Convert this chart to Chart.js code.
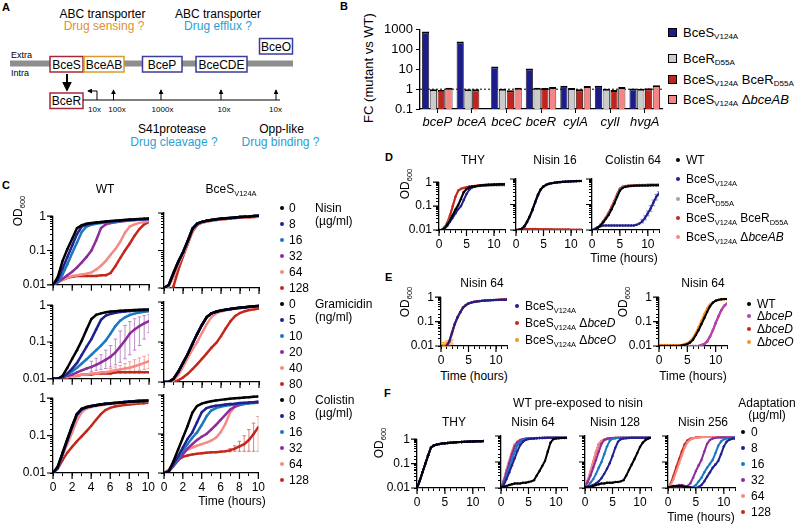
<!DOCTYPE html>
<html>
<head>
<meta charset="utf-8">
<script src="https://cdn.jsdelivr.net/npm/chart.js@4.4.0/dist/chart.umd.min.js"></script>
<style>
body{margin:0;width:796px;height:526px;position:relative;overflow:hidden;background:#fff;font-family:'Liberation Sans',Arial,sans-serif;font-size:12px;color:#000}
canvas{position:absolute}
.t{position:absolute;white-space:nowrap;line-height:1}
.t sub{font-size:0.62em;vertical-align:-0.35em;line-height:0}
.dot{position:absolute;width:4px;height:4px;border-radius:50%;margin:-2px 0 0 -2px}
.sq{position:absolute;width:7px;height:7px;border:1px solid #000;margin:-4px 0 0 -4px}
</style>
</head>
<body>
<svg style="position:absolute;left:0;top:0" width="330" height="160" font-family="Liberation Sans, Arial, sans-serif">
  <defs>
    <marker id="ah" viewBox="0 0 6 6" refX="5" refY="3" markerWidth="5" markerHeight="5" orient="auto"><path d="M0,0L6,3L0,6z" fill="#000"/></marker>
  </defs>
  <rect x="10" y="60.5" width="283" height="6" fill="#8e8e8e"/>
  <text x="11" y="55" font-size="9" dominant-baseline="central">Extra</text>
  <text x="11" y="73" font-size="9" dominant-baseline="central">Intra</text>
  <g fill="#fff" stroke-width="1.5">
    <rect x="50" y="56.5" width="33" height="15.5" stroke="#a8283a"/>
    <rect x="84" y="56.5" width="40" height="15.5" stroke="#d99a2b"/>
    <rect x="142.5" y="56.5" width="39.5" height="15.5" stroke="#3c3c9c"/>
    <rect x="196" y="56.5" width="51" height="15.5" stroke="#3c3c9c"/>
    <rect x="259.5" y="38.5" width="33" height="15.5" stroke="#3c3c9c"/>
    <rect x="50" y="93" width="33" height="15.5" stroke="#a8283a"/>
  </g>
  <g font-size="12" text-anchor="middle" dominant-baseline="central">
    <text x="66.5" y="64.5">BceS</text>
    <text x="104" y="64.5">BceAB</text>
    <text x="162" y="64.5">BceP</text>
    <text x="221.5" y="64.5">BceCDE</text>
    <text x="276" y="46.5">BceO</text>
    <text x="66.5" y="101">BceR</text>
    <text x="102.5" y="14">ABC transporter</text>
    <text x="104" y="26" fill="#e0922c">Drug sensing ?</text>
    <text x="218" y="14">ABC transporter</text>
    <text x="218" y="26" fill="#2a9fd3">Drug efflux ?</text>
    <text x="172" y="129">S41protease</text>
    <text x="174" y="142" fill="#2a9fd3">Drug cleavage ?</text>
    <text x="281.5" y="129">Opp-like</text>
    <text x="280.5" y="142" fill="#2a9fd3">Drug binding ?</text>
  </g>
  <g font-size="8" text-anchor="middle" dominant-baseline="central">
    <text x="94.5" y="109">10x</text>
    <text x="117" y="109">100x</text>
    <text x="162.5" y="109">1000x</text>
    <text x="224" y="109">10x</text>
    <text x="275.5" y="109">10x</text>
  </g>
  <g stroke="#000" fill="none">
    <line x1="67" y1="74" x2="67" y2="90" stroke-width="2" marker-end="url(#ah)"/>
    <line x1="83" y1="100" x2="280" y2="100" stroke-width="1"/>
    <path d="M97,100V91H88" stroke-width="1" marker-end="url(#ah)"/>
    <line x1="113.5" y1="100" x2="113.5" y2="90" stroke-width="1" marker-end="url(#ah)"/>
    <line x1="161" y1="100" x2="161" y2="90" stroke-width="1" marker-end="url(#ah)"/>
    <line x1="221" y1="100" x2="221" y2="90" stroke-width="1" marker-end="url(#ah)"/>
    <line x1="276" y1="100" x2="276" y2="90" stroke-width="1" marker-end="url(#ah)"/>
  </g>
</svg>
<script>
'use strict'
// ---------- panel B ----------
const bGenes = ['bceP', 'bceA', 'bceC', 'bceR', 'cylA', 'cylI', 'hvgA'];
const bBceS = [820, 260, 14, 11, 1.5, 1.5, 1.1];
const bBceR = [0.98, 1.0, 1.05, 1.2, 1.15, 1.05, 1.05];
const bBoth = [0.95, 1.0, 0.88, 1.15, 1.0, 0.92, 1.12];
const bDelAB = [1.2, null, 1.2, 1.3, 1.45, 1.3, 1.6];
const bTicks = [0.1, 1, 10, 100, 1000];

// ---------- time axes ----------
const tC = [0, 0.5, 1, 1.5, 2, 2.5, 3, 3.5, 4, 4.5, 5, 5.5, 6, 6.5, 7, 7.5, 8, 8.5, 9, 9.5, 10];
const tL = [0, 0.5, 1, 1.5, 2, 2.5, 3, 3.5, 4, 4.5, 5, 5.5, 6, 6.5, 7, 7.5, 8, 8.5, 9, 9.5, 10, 10.5, 11, 11.5, 12];

// ---------- panel C : WT / BceS, nisin ----------
const cNisWt0 = [0.01, 0.017, 0.05, 0.11, 0.22, 0.45, 0.55, 0.6, 0.63, 0.66, 0.68, 0.7, 0.72, 0.74, 0.76, 0.78, 0.8, 0.81, 0.83, 0.84, 0.85];
const cNisWt8 = [0.01, 0.014, 0.03, 0.065, 0.14, 0.3, 0.5, 0.57, 0.61, 0.64, 0.67, 0.69, 0.71, 0.73, 0.75, 0.77, 0.79, 0.8, 0.82, 0.83, 0.84];
const cNisWt16 = [0.01, 0.012, 0.02, 0.04, 0.085, 0.17, 0.35, 0.5, 0.56, 0.6, 0.63, 0.66, 0.68, 0.7, 0.72, 0.74, 0.76, 0.78, 0.8, 0.81, 0.82];
const cNisWt32 = [0.01, 0.012, 0.015, 0.019, 0.024, 0.032, 0.045, 0.065, 0.1, 0.2, 0.45, 0.58, 0.63, 0.67, 0.7, 0.73, 0.75, 0.77, 0.79, 0.8, 0.82];
const cNisWt64 = [0.01, 0.012, 0.014, 0.016, 0.018, 0.019, 0.02, 0.021, 0.023, 0.028, 0.036, 0.05, 0.075, 0.11, 0.18, 0.33, 0.5, 0.58, 0.64, 0.68, 0.72];
const cNisWt128 = [0.01, 0.012, 0.014, 0.016, 0.017, 0.018, 0.018, 0.018, 0.018, 0.018, 0.019, 0.019, 0.022, 0.035, 0.06, 0.1, 0.16, 0.27, 0.42, 0.58, 0.68];
const cNisBsLow = [0.01, 0.012, 0.025, 0.05, 0.09, 0.18, 0.38, 0.52, 0.58, 0.62, 0.65, 0.68, 0.7, 0.72, 0.74, 0.76, 0.78, 0.8, 0.81, 0.83, 0.84];
const cNisBs64 = [0.009, 0.011, 0.02, 0.042, 0.08, 0.16, 0.34, 0.5, 0.56, 0.6, 0.63, 0.66, 0.68, 0.7, 0.72, 0.74, 0.76, 0.77, 0.78, 0.79, 0.8];
const cNisBs128 = [0.007, 0.008, 0.011, 0.03, 0.07, 0.15, 0.32, 0.48, 0.55, 0.59, 0.62, 0.65, 0.67, 0.69, 0.71, 0.73, 0.75, 0.76, 0.77, 0.78, 0.79];

// ---------- panel C : gramicidin ----------
const cGraWt0 = [0.01, 0.01, 0.012, 0.02, 0.035, 0.06, 0.11, 0.22, 0.42, 0.55, 0.6, 0.64, 0.67, 0.69, 0.71, 0.72, 0.73, 0.74, 0.75, 0.76, 0.77];
const cGraWt5 = [0.01, 0.01, 0.011, 0.014, 0.019, 0.027, 0.045, 0.075, 0.12, 0.22, 0.4, 0.52, 0.58, 0.62, 0.65, 0.67, 0.69, 0.71, 0.72, 0.73, 0.74];
const cGraWt10 = [0.01, 0.01, 0.011, 0.013, 0.016, 0.02, 0.026, 0.034, 0.045, 0.06, 0.08, 0.11, 0.17, 0.27, 0.38, 0.47, 0.54, 0.59, 0.63, 0.66, 0.69];
const cGraWt20 = [0.01, 0.01, 0.011, 0.012, 0.013, 0.015, 0.017, 0.019, 0.021, 0.024, 0.028, 0.033, 0.04, 0.052, 0.075, 0.11, 0.17, 0.22, 0.27, 0.32, 0.37];
const cGraWt20Hi = [null, null, null, null, null, null, null, null, 0.03, 0.036, 0.045, 0.06, 0.08, 0.12, 0.2, 0.28, 0.36, 0.43, 0.48, 0.52, 0.55];
const cGraWt20Lo = [null, null, null, null, null, null, null, null, 0.016, 0.017, 0.018, 0.019, 0.021, 0.024, 0.028, 0.035, 0.045, 0.06, 0.08, 0.12, 0.18];
const cGraWt40 = [0.01, 0.01, 0.011, 0.011, 0.012, 0.012, 0.013, 0.013, 0.014, 0.014, 0.015, 0.015, 0.016, 0.017, 0.018, 0.019, 0.02, 0.022, 0.024, 0.027, 0.03];
const cGraWt40Hi = [null, null, null, null, null, null, null, null, null, null, null, null, 0.019, 0.021, 0.023, 0.026, 0.029, 0.033, 0.037, 0.041, 0.045];
const cGraWt40Lo = [null, null, null, null, null, null, null, null, null, null, null, null, 0.014, 0.014, 0.015, 0.015, 0.016, 0.016, 0.017, 0.018, 0.019];
const cGraWt80 = [0.01, 0.01, 0.011, 0.011, 0.012, 0.012, 0.013, 0.013, 0.013, 0.014, 0.014, 0.014, 0.014, 0.015, 0.015, 0.015, 0.015, 0.015, 0.015, 0.015, 0.015];
const cGraBsLow = [0.01, 0.01, 0.012, 0.018, 0.03, 0.05, 0.09, 0.16, 0.27, 0.42, 0.52, 0.57, 0.61, 0.64, 0.67, 0.7, 0.72, 0.74, 0.76, 0.78, 0.8];
const cGraBs40 = [0.01, 0.01, 0.011, 0.015, 0.024, 0.04, 0.065, 0.1, 0.17, 0.28, 0.42, 0.52, 0.58, 0.62, 0.65, 0.68, 0.7, 0.72, 0.74, 0.75, 0.76];
const cGraBs80 = [0.01, 0.01, 0.01, 0.011, 0.013, 0.016, 0.021, 0.028, 0.038, 0.052, 0.072, 0.095, 0.14, 0.22, 0.33, 0.45, 0.53, 0.59, 0.63, 0.66, 0.69];

// ---------- panel C : colistin ----------
const cColWt0 = [0.01, 0.015, 0.035, 0.08, 0.18, 0.38, 0.52, 0.58, 0.62, 0.65, 0.68, 0.7, 0.72, 0.74, 0.76, 0.78, 0.8, 0.81, 0.82, 0.83, 0.84];
const cColWtLow = [0.01, 0.014, 0.032, 0.075, 0.17, 0.36, 0.5, 0.57, 0.61, 0.65, 0.68, 0.71, 0.73, 0.75, 0.77, 0.79, 0.81, 0.83, 0.85, 0.87, 0.88];
const cColWt64 = [0.01, 0.014, 0.03, 0.06, 0.12, 0.25, 0.42, 0.52, 0.58, 0.62, 0.65, 0.68, 0.7, 0.72, 0.74, 0.75, 0.77, 0.78, 0.79, 0.8, 0.81];
const cColWt128 = [0.01, 0.013, 0.022, 0.035, 0.05, 0.07, 0.095, 0.13, 0.18, 0.26, 0.37, 0.48, 0.55, 0.6, 0.63, 0.66, 0.68, 0.7, 0.72, 0.73, 0.75];
const cColBs0 = [0.01, 0.011, 0.02, 0.04, 0.08, 0.16, 0.35, 0.52, 0.6, 0.65, 0.69, 0.72, 0.75, 0.78, 0.8, 0.82, 0.84, 0.86, 0.88, 0.9, 0.92];
const cColBs8 = [0.01, 0.011, 0.017, 0.027, 0.045, 0.075, 0.11, 0.2, 0.36, 0.46, 0.5, 0.53, 0.55, 0.57, 0.59, 0.6, 0.62, 0.63, 0.64, 0.65, 0.66];
const cColBs16 = [0.01, 0.011, 0.016, 0.024, 0.037, 0.055, 0.08, 0.11, 0.17, 0.28, 0.4, 0.46, 0.5, 0.53, 0.55, 0.57, 0.58, 0.6, 0.61, 0.62, 0.63];
const cColBs32 = [0.01, 0.011, 0.015, 0.021, 0.03, 0.042, 0.055, 0.07, 0.085, 0.1, 0.13, 0.17, 0.23, 0.31, 0.42, 0.5, 0.55, 0.59, 0.62, 0.65, 0.68];
const cColBs64 = [0.01, 0.012, 0.018, 0.026, 0.034, 0.04, 0.045, 0.05, 0.055, 0.06, 0.068, 0.08, 0.11, 0.18, 0.35, 0.5, 0.57, 0.6, 0.62, 0.63, 0.64];
const cColBs128 = [0.01, 0.012, 0.017, 0.022, 0.026, 0.028, 0.03, 0.031, 0.032, 0.033, 0.034, 0.034, 0.035, 0.036, 0.038, 0.042, 0.048, 0.055, 0.07, 0.1, 0.15];
const cColBs128Hi = [null, null, null, null, null, null, null, null, null, null, null, null, null, null, 0.042, 0.05, 0.065, 0.09, 0.13, 0.19, 0.28];
const cColBs128Lo = [null, null, null, null, null, null, null, null, null, null, null, null, null, null, 0.035, 0.036, 0.036, 0.036, 0.036, 0.036, 0.036];

// ---------- panel D ----------
const dThyWt = [0.01, 0.01, 0.012, 0.017, 0.026, 0.042, 0.07, 0.11, 0.2, 0.38, 0.52, 0.6, 0.65, 0.68, 0.7, 0.72, 0.74, 0.75, 0.76, 0.77, 0.78, 0.79, 0.8, 0.8, 0.81];
const dThyBs = [0.01, 0.01, 0.011, 0.015, 0.022, 0.033, 0.05, 0.075, 0.1, 0.18, 0.32, 0.48, 0.6, 0.66, 0.7, 0.73, 0.76, 0.78, 0.8, 0.81, 0.82, 0.83, 0.84, 0.85, 0.85];
const dThyBr = [0.01, 0.01, 0.012, 0.018, 0.028, 0.045, 0.075, 0.12, 0.22, 0.4, 0.52, 0.58, 0.62, 0.65, 0.67, 0.69, 0.7, 0.71, 0.72, 0.73, 0.74, 0.74, 0.75, 0.75, 0.75];
const dThyBoth = [0.01, 0.01, 0.013, 0.02, 0.04, 0.1, 0.25, 0.45, 0.53, 0.58, 0.62, 0.66, 0.68, 0.7, 0.72, 0.73, 0.74, 0.75, 0.76, 0.77, 0.78, 0.78, 0.79, 0.79, 0.8];
const dThyDel = [0.01, 0.01, 0.013, 0.021, 0.042, 0.1, 0.24, 0.43, 0.52, 0.57, 0.61, 0.65, 0.67, 0.69, 0.71, 0.72, 0.73, 0.74, 0.75, 0.76, 0.77, 0.77, 0.78, 0.78, 0.79];
const dNisWt = [0.01, 0.01, 0.011, 0.014, 0.021, 0.035, 0.065, 0.13, 0.25, 0.4, 0.52, 0.6, 0.65, 0.69, 0.72, 0.74, 0.76, 0.78, 0.79, 0.8, 0.81, 0.82, 0.83, 0.84, 0.84];
const dNisBs = [0.01, 0.01, 0.011, 0.013, 0.02, 0.033, 0.06, 0.12, 0.23, 0.38, 0.5, 0.58, 0.64, 0.68, 0.71, 0.73, 0.75, 0.77, 0.78, 0.79, 0.8, 0.81, 0.82, 0.83, 0.83];
const dNisBr = [0.01, 0.0099, 0.0098, 0.0098, 0.0098, 0.0098, 0.0098, 0.0098, 0.0098, 0.0098, 0.0098, 0.0098, 0.0098, 0.0098, 0.0098, 0.0098, 0.0098, 0.0098, 0.0098, 0.0098, 0.0098, 0.0098, 0.0098, 0.0098, 0.0098];
const dNisBoth = [0.01, 0.0105, 0.011, 0.011, 0.011, 0.011, 0.011, 0.0109, 0.0108, 0.0108, 0.0107, 0.0107, 0.0106, 0.0106, 0.0105, 0.0105, 0.0105, 0.0104, 0.0104, 0.0104, 0.0103, 0.0103, 0.0103, 0.0102, 0.0102];
const dNisDel = [0.01, 0.0104, 0.0108, 0.0108, 0.0108, 0.0107, 0.0106, 0.0105, 0.0104, 0.0103, 0.0102, 0.0102, 0.0101, 0.0101, 0.01, 0.01, 0.01, 0.0099, 0.0099, 0.0099, 0.0098, 0.0098, 0.0098, 0.0097, 0.0097];
const dColWt = [0.01, 0.01, 0.012, 0.015, 0.02, 0.028, 0.04, 0.065, 0.11, 0.2, 0.35, 0.45, 0.5, 0.52, 0.53, 0.54, 0.55, 0.55, 0.56, 0.56, 0.56, 0.57, 0.57, 0.57, 0.57];
const dColBs = [0.01, 0.011, 0.013, 0.014, 0.015, 0.015, 0.015, 0.015, 0.015, 0.015, 0.015, 0.015, 0.015, 0.015, 0.015, 0.015, 0.016, 0.018, 0.022, 0.03, 0.045, 0.07, 0.12, 0.2, 0.27];
const dColBsHi = [null, null, null, null, null, null, null, null, null, null, null, null, null, null, null, null, null, null, 0.026, 0.036, 0.055, 0.09, 0.15, 0.25, 0.32];
const dColBsLo = [null, null, null, null, null, null, null, null, null, null, null, null, null, null, null, null, null, null, 0.019, 0.025, 0.036, 0.054, 0.09, 0.15, 0.22];
const dColBr = [0.01, 0.01, 0.012, 0.016, 0.021, 0.03, 0.043, 0.07, 0.12, 0.22, 0.37, 0.47, 0.51, 0.53, 0.54, 0.55, 0.55, 0.56, 0.56, 0.57, 0.57, 0.57, 0.58, 0.58, 0.58];
const dColBoth = [0.01, 0.01, 0.012, 0.016, 0.022, 0.032, 0.048, 0.08, 0.14, 0.26, 0.42, 0.5, 0.53, 0.55, 0.56, 0.57, 0.57, 0.58, 0.58, 0.58, 0.59, 0.59, 0.59, 0.59, 0.6];
const dColDel = [0.01, 0.01, 0.012, 0.015, 0.021, 0.031, 0.046, 0.077, 0.13, 0.24, 0.4, 0.49, 0.52, 0.54, 0.55, 0.56, 0.57, 0.57, 0.58, 0.58, 0.58, 0.59, 0.59, 0.59, 0.59];

// ---------- panel E ----------
const eBs = [0.01, 0.009, 0.01, 0.015, 0.035, 0.08, 0.15, 0.24, 0.37, 0.47, 0.55, 0.6, 0.64, 0.67, 0.69, 0.71, 0.73, 0.74, 0.75, 0.76, 0.77, 0.78, 0.79, 0.79, 0.8];
const eBsD = [0.01, 0.009, 0.01, 0.016, 0.036, 0.08, 0.15, 0.25, 0.38, 0.48, 0.56, 0.61, 0.65, 0.68, 0.7, 0.72, 0.74, 0.75, 0.76, 0.77, 0.78, 0.79, 0.8, 0.8, 0.81];
const eBsO = [0.011, 0.011, 0.012, 0.014, 0.03, 0.075, 0.14, 0.23, 0.36, 0.47, 0.55, 0.6, 0.64, 0.67, 0.69, 0.71, 0.72, 0.73, 0.74, 0.75, 0.76, 0.77, 0.78, 0.79, 0.79];
const eBsOHi = [0.013, 0.014, 0.016, 0.017, 0.018, null, null, null, null, null, null, null, null, null, null, null, null, null, null, null, null, null, null, null, null];
const eBsOLo = [0.009, 0.009, 0.009, 0.011, 0.012, null, null, null, null, null, null, null, null, null, null, null, null, null, null, null, null, null, null, null, null];
const eWt = [0.01, 0.01, 0.01, 0.01, 0.01, 0.01, 0.01, 0.01, 0.0105, 0.011, 0.012, 0.014, 0.018, 0.028, 0.045, 0.08, 0.14, 0.25, 0.42, 0.6, 0.72, 0.78, 0.82, 0.84, 0.85];
const eDelP = [0.01, 0.01, 0.01, 0.01, 0.01, 0.01, 0.01, 0.01, 0.01, 0.01, 0.01, 0.01, 0.01, 0.01, 0.01, 0.011, 0.012, 0.016, 0.025, 0.045, 0.09, 0.17, 0.3, 0.45, 0.55];
const eDelD = [0.01, 0.01, 0.01, 0.01, 0.01, 0.01, 0.01, 0.01, 0.01, 0.01, 0.01, 0.01, 0.01, 0.01, 0.01, 0.011, 0.012, 0.015, 0.024, 0.043, 0.085, 0.16, 0.29, 0.44, 0.54];
const eDelO = [0.011, 0.011, 0.011, 0.011, 0.011, 0.011, 0.011, 0.011, 0.011, 0.012, 0.013, 0.016, 0.022, 0.035, 0.06, 0.11, 0.2, 0.35, 0.5, 0.6, 0.7, 0.76, 0.8, 0.82, 0.83];

// ---------- panel F ----------
const fThy = [0.01, 0.02, 0.045, 0.1, 0.22, 0.45, 0.55, 0.6, 0.63, 0.66, 0.68, 0.7, 0.72, 0.73, 0.75, 0.76, 0.77, 0.78, 0.79, 0.8, 0.81, 0.82, 0.83, 0.83, 0.84];
const fN64a0 = [0.011, 0.011, 0.012, 0.013, 0.014, 0.015, 0.015, 0.015, 0.016, 0.016, 0.017, 0.018, 0.02, 0.03, 0.045, 0.07, 0.11, 0.25, 0.55, 0.75, 0.8, 0.82, 0.83, 0.84, 0.84];
const fN64a8 = [0.011, 0.013, 0.022, 0.04, 0.075, 0.14, 0.27, 0.45, 0.6, 0.7, 0.76, 0.79, 0.81, 0.82, 0.83, 0.84, 0.84, 0.85, 0.85, 0.85, 0.85, 0.85, 0.85, 0.85, 0.85];
const fN64a16 = [0.011, 0.015, 0.03, 0.06, 0.12, 0.25, 0.45, 0.6, 0.7, 0.76, 0.79, 0.81, 0.82, 0.83, 0.84, 0.84, 0.85, 0.85, 0.85, 0.85, 0.85, 0.85, 0.85, 0.85, 0.85];
const fN64a32 = [0.011, 0.018, 0.04, 0.09, 0.2, 0.4, 0.58, 0.7, 0.76, 0.79, 0.81, 0.82, 0.83, 0.84, 0.84, 0.85, 0.85, 0.85, 0.85, 0.85, 0.85, 0.85, 0.85, 0.85, 0.85];
const fN64a64 = [0.011, 0.02, 0.05, 0.12, 0.25, 0.48, 0.62, 0.7, 0.75, 0.78, 0.8, 0.81, 0.82, 0.83, 0.84, 0.84, 0.85, 0.85, 0.85, 0.85, 0.85, 0.85, 0.85, 0.85, 0.85];
const fN64a128 = [0.011, 0.019, 0.047, 0.11, 0.24, 0.46, 0.6, 0.69, 0.75, 0.78, 0.8, 0.81, 0.82, 0.83, 0.84, 0.84, 0.85, 0.85, 0.85, 0.85, 0.85, 0.85, 0.85, 0.85, 0.85];
const fN128a0 = [0.011, 0.011, 0.011, 0.012, 0.013, 0.014, 0.015, 0.015, 0.016, 0.016, 0.016, 0.017, 0.017, 0.018, 0.02, 0.03, 0.05, 0.08, 0.13, 0.22, 0.38, 0.55, 0.7, 0.8, 0.85];
const fN128a8 = [0.01, 0.011, 0.012, 0.013, 0.015, 0.018, 0.024, 0.035, 0.055, 0.09, 0.17, 0.35, 0.6, 0.75, 0.8, 0.82, 0.84, 0.85, 0.85, 0.85, 0.85, 0.85, 0.85, 0.85, 0.85];
const fN128a16 = [0.01, 0.012, 0.016, 0.022, 0.035, 0.06, 0.1, 0.2, 0.4, 0.65, 0.78, 0.82, 0.84, 0.85, 0.85, 0.85, 0.85, 0.85, 0.85, 0.85, 0.85, 0.85, 0.85, 0.85, 0.85];
const fN128a32 = [0.012, 0.017, 0.03, 0.06, 0.12, 0.25, 0.5, 0.7, 0.78, 0.82, 0.84, 0.85, 0.85, 0.85, 0.85, 0.85, 0.85, 0.85, 0.85, 0.85, 0.85, 0.85, 0.85, 0.85, 0.85];
const fN128a64 = [0.011, 0.02, 0.045, 0.11, 0.25, 0.5, 0.65, 0.73, 0.78, 0.81, 0.83, 0.84, 0.85, 0.85, 0.85, 0.85, 0.85, 0.85, 0.85, 0.85, 0.85, 0.85, 0.85, 0.85, 0.85];
const fN128a128 = [0.011, 0.019, 0.042, 0.1, 0.23, 0.47, 0.63, 0.72, 0.77, 0.8, 0.82, 0.84, 0.85, 0.85, 0.85, 0.85, 0.85, 0.85, 0.85, 0.85, 0.85, 0.85, 0.85, 0.85, 0.85];
const fN256a0 = [0.011, 0.011, 0.012, 0.012, 0.012, 0.012, 0.011, 0.011, 0.0105, 0.0098, 0.0094, 0.0092, 0.009, 0.009, 0.009, 0.009, 0.009, 0.009, 0.009, 0.009, 0.009, 0.009, 0.009, 0.009, 0.009];
const fN256a8 = [0.01, 0.01, 0.01, 0.01, 0.01, 0.01, 0.01, 0.01, 0.01, 0.01, 0.01, 0.011, 0.013, 0.018, 0.027, 0.04, 0.06, 0.08, 0.11, 0.2, 0.4, 0.6, 0.72, 0.78, 0.8];
const fN256a16 = [0.01, 0.01, 0.01, 0.01, 0.01, 0.01, 0.01, 0.01, 0.01, 0.011, 0.013, 0.018, 0.025, 0.04, 0.06, 0.085, 0.12, 0.22, 0.42, 0.62, 0.75, 0.8, 0.83, 0.85, 0.86];
const fN256a32 = [0.01, 0.011, 0.012, 0.012, 0.013, 0.013, 0.012, 0.012, 0.015, 0.025, 0.045, 0.075, 0.12, 0.25, 0.5, 0.7, 0.8, 0.85, 0.87, 0.88, 0.88, 0.88, 0.88, 0.88, 0.88];
const fN256a64 = [0.01, 0.013, 0.022, 0.045, 0.09, 0.18, 0.36, 0.58, 0.72, 0.8, 0.85, 0.88, 0.9, 0.92, 0.93, 0.94, 0.95, 0.95, 0.96, 0.96, 0.96, 0.97, 0.97, 0.97, 0.97];
const fN256a128 = [0.01, 0.015, 0.03, 0.065, 0.13, 0.26, 0.48, 0.68, 0.78, 0.83, 0.87, 0.9, 0.93, 0.95, 0.96, 0.97, 0.97, 0.98, 0.98, 0.98, 0.98, 0.98, 0.98, 0.98, 0.98];

const nisinDoses = ['0', '8', '16', '32', '64', '128'];
const gramDoses = ['0', '5', '10', '20', '40', '80'];
const colDoses = ['0', '8', '16', '32', '64', '128'];
const adaptDoses = ['0', '8', '16', '32', '64', '128'];

const K = '#000000', NV = '#20208f', CY = '#1b79c1', PU = '#8d2d9b', PK = '#f68a85', RD = '#c4281c';
const GR = '#a3a3a3', OR = '#f7941d', MG = '#b445b6';
const doseColors = [K, NV, CY, PU, PK, RD];

Chart.defaults.font.family = "'Liberation Sans', Arial, sans-serif";
Chart.defaults.font.size = 12;
Chart.defaults.color = '#000';

function put(html, x, y, o = {}) {
    const d = document.createElement('div');
    d.className = 't';
    d.innerHTML = html;
    d.style.left = x + 'px';
    d.style.top = y + 'px';
    const ax = o.align === 'left' ? '0' : '-50%';
    d.style.transform = 'translate(' + ax + ',-50%)' + (o.rot ? ' rotate(' + o.rot + 'deg)' : '');
    if (o.size) d.style.fontSize = o.size + 'px';
    if (o.color) d.style.color = o.color;
    if (o.bold) d.style.fontWeight = 'bold';
    document.body.appendChild(d);
}
function dot(x, y, c) {
    const d = document.createElement('div');
    d.className = 'dot';
    d.style.left = x + 'px'; d.style.top = y + 'px'; d.style.background = c;
    document.body.appendChild(d);
}
function sq(x, y, c) {
    const d = document.createElement('div');
    d.className = 'sq';
    d.style.left = x + 'px'; d.style.top = y + 'px'; d.style.background = c;
    document.body.appendChild(d);
}
function canvasAt(x, y, w, h) {
    const cv = document.createElement('canvas');
    cv.width = w; cv.height = h;
    cv.style.left = x + 'px'; cv.style.top = y + 'px';
    document.body.appendChild(cv);
    return cv;
}

const majorTicks = {
    id: 'majorTicks',
    afterDraw(chart) {
        const o = chart.options.plugins.majorTicks;
        const {ctx, chartArea: a} = chart;
        ctx.save();
        ctx.strokeStyle = '#000';
        ctx.lineWidth = 1.2;
        ctx.beginPath();
        for (const v of o.y) {
            const py = chart.scales.y.getPixelForValue(v);
            ctx.moveTo(a.left - 6, py); ctx.lineTo(a.left, py);
        }
        for (const v of o.x) {
            const px = chart.scales.x.getPixelForValue(v);
            ctx.moveTo(px, a.bottom); ctx.lineTo(px, a.bottom + 6);
        }
        ctx.stroke();
        ctx.restore();
    }
};

// vertical error bars from errHi / errLo arrays on a dataset
const errorBars = {
    id: 'errorBars',
    beforeDatasetsDraw(chart) {
        const {ctx, chartArea: a, scales: {x, y}} = chart;
        ctx.save();
        ctx.beginPath(); ctx.rect(a.left, a.top - 1, a.right - a.left, a.bottom - a.top + 2); ctx.clip();
        chart.data.datasets.forEach(ds => {
            if (!ds.errHi) return;
            ctx.strokeStyle = ds.errColor;
            ctx.lineWidth = 0.8;
            ds.data.forEach((p, i) => {
                const hi = ds.errHi[i], lo = ds.errLo[i];
                if (hi == null) return;
                const px = x.getPixelForValue(p.x);
                const y1 = y.getPixelForValue(hi), y2 = y.getPixelForValue(lo);
                ctx.beginPath();
                ctx.moveTo(px, y1); ctx.lineTo(px, y2);
                ctx.moveTo(px - 1.8, y1); ctx.lineTo(px + 1.8, y1);
                ctx.moveTo(px - 1.8, y2); ctx.lineTo(px + 1.8, y2);
                ctx.stroke();
            });
        });
        ctx.restore();
    }
};

function isMajor(v, list) {
    return list.some(m => Math.abs(v - m) < m * 1e-6);
}

// px,py = plot area top-left; pw,ph = plot size
function growth(px, py, pw, ph, t, xMax, xStep, yLab, xLab, sets, lw) {
    const AW = yLab ? 34 : 8, PT = 8, PR = 10, XH = xLab ? 19 : 8;
    const cv = canvasAt(px - AW, py - PT, AW + pw + PR, PT + ph + XH);
    const xMaj = [];
    for (let v = 0; v <= xMax; v += xStep) xMaj.push(v);
    const yMaj = [0.01, 0.1, 1];
    const axisGrid = {drawOnChartArea: false, tickLength: 3, color: '#000', lineWidth: 1};
    new Chart(cv, {
        type: 'line',
        data: {
            datasets: sets.map(s => ({
                data: t.map((v, i) => ({x: v, y: s[0][i]})),
                borderColor: s[1],
                backgroundColor: s[1],
                pointBackgroundColor: s[1],
                errHi: s[2],
                errLo: s[3],
                errColor: s[4] || s[1]
            }))
        },
        options: {
            responsive: false,
            animation: false,
            layout: {padding: {top: PT, right: PR, left: 0, bottom: 0}},
            plugins: {legend: {display: false}, tooltip: {enabled: false}, majorTicks: {x: xMaj, y: yMaj}},
            elements: {
                line: {borderWidth: lw, tension: 0},
                point: {radius: 1.2, borderWidth: 0}
            },
            scales: {
                x: {
                    type: 'linear', min: 0, max: xMax,
                    afterFit: s => { s.height = XH; },
                    ticks: {
                        display: xLab, stepSize: 1, autoSkip: false, maxRotation: 0, padding: 4,
                        callback: v => isMajor(v + 1, xMaj.map(m => m + 1)) ? String(v) : ''
                    },
                    grid: axisGrid,
                    border: {color: '#000', width: 1.3}
                },
                y: {
                    type: 'logarithmic', min: 0.01, max: 1,
                    afterFit: s => { s.width = AW; },
                    ticks: {
                        display: yLab, autoSkip: false, padding: 4,
                        callback: v => isMajor(v, yMaj) ? String(+v.toFixed(2)) : ''
                    },
                    grid: axisGrid,
                    border: {color: '#000', width: 1.3}
                }
            }
        },
        plugins: [majorTicks, errorBars]
    });
}

// ---------- B chart ----------
{
    const cv = canvasAt(380, 19, 286, 112);
    const mk = (label, data, c) => ({
        label, data, backgroundColor: c, borderColor: '#000',
        borderWidth: {top: 2, left: 0.8, right: 0.8, bottom: 0}
    });
    new Chart(cv, {
        type: 'bar',
        data: {
            labels: bGenes,
            datasets: [
                mk('BceS V124A', bBceS, '#1c1c8a'),
                mk('BceR D55A', bBceR, '#cbcbcb'),
                mk('BceS V124A BceR D55A', bBoth, '#c0241c'),
                mk('BceS V124A dbceAB', bDelAB, '#f58585')
            ]
        },
        options: {
            responsive: false,
            animation: false,
            layout: {padding: {top: 8, right: 4, left: 0, bottom: 0}},
            categoryPercentage: 0.9,
            barPercentage: 0.92,
            plugins: {legend: {display: false}, tooltip: {enabled: false}},
            scales: {
                x: {
                    afterFit: s => { s.height = 22; },
                    ticks: {font: {size: 13, style: 'italic'}, padding: 2, maxRotation: 0},
                    grid: {offset: false, drawOnChartArea: false, tickLength: 4, color: '#000'},
                    border: {color: '#000', width: 1.3}
                },
                y: {
                    type: 'logarithmic', min: 0.1, max: 1000,
                    afterFit: s => { s.width = 40; },
                    afterBuildTicks: s => { s.ticks = bTicks.map(v => ({value: v})); },
                    ticks: {font: {size: 13}, padding: 3, callback: v => String(v)},
                    grid: {drawOnChartArea: false, tickLength: 4, color: '#000'},
                    border: {color: '#000', width: 1.3}
                }
            }
        },
        plugins: [{
            id: 'oneLine',
            beforeDatasetsDraw(chart) {
                const {ctx, chartArea: a, scales: {y}} = chart;
                const py = y.getPixelForValue(1);
                ctx.save();
                ctx.setLineDash([2, 2]);
                ctx.strokeStyle = '#000';
                ctx.lineWidth = 1;
                ctx.beginPath(); ctx.moveTo(a.left, py); ctx.lineTo(a.right, py); ctx.stroke();
                ctx.restore();
            }
        }]
    });
}

// ---------- C charts ----------
growth(53, 213, 96, 75, tC, 10, 2, true, false,
    [[cNisWt0, K], [cNisWt8, NV], [cNisWt16, CY], [cNisWt32, PU], [cNisWt64, PK], [cNisWt128, RD]], 2.5);
growth(164, 213, 95, 75, tC, 10, 2, false, false,
    [[cNisBsLow, K], [cNisBsLow, NV], [cNisBsLow, CY], [cNisBsLow, PU], [cNisBs64, PK], [cNisBs128, RD]], 2.5);
growth(53, 302, 96, 80, tC, 10, 2, true, false,
    [[cGraWt0, K], [cGraWt5, NV], [cGraWt10, CY], [cGraWt20, PU, cGraWt20Hi, cGraWt20Lo, '#b070bc'],
     [cGraWt40, PK, cGraWt40Hi, cGraWt40Lo], [cGraWt80, RD]], 2.5);
growth(164, 302, 95, 80, tC, 10, 2, false, false,
    [[cGraBsLow, K], [cGraBsLow, NV], [cGraBsLow, CY], [cGraBsLow, PU], [cGraBs40, PK], [cGraBs80, RD]], 2.5);
growth(53, 395, 96, 78, tC, 10, 2, true, true,
    [[cColWt0, K], [cColWtLow, NV], [cColWtLow, CY], [cColWtLow, PU], [cColWt64, PK], [cColWt128, RD]], 2.5);
growth(164, 395, 95, 78, tC, 10, 2, false, true,
    [[cColBs0, K], [cColBs8, NV], [cColBs16, CY], [cColBs32, PU], [cColBs64, PK],
     [cColBs128, RD, cColBs128Hi, cColBs128Lo, '#d0605a']], 2.5);

// ---------- D charts ----------
growth(439, 179, 66, 51, tL, 12, 5, true, true,
    [[dThyWt, K], [dThyBs, NV], [dThyBr, GR], [dThyBoth, RD], [dThyDel, PK]], 2);
growth(516, 179, 66, 51, tL, 12, 5, false, true,
    [[dNisWt, K], [dNisBs, NV], [dNisBoth, RD], [dNisBr, GR], [dNisDel, PK]], 2);
growth(592, 179, 67, 51, tL, 12, 5, false, true,
    [[dColWt, K], [dColBs, NV, dColBsHi, dColBsLo, '#6a6ac0'], [dColBr, GR], [dColBoth, RD], [dColDel, PK]], 2);

// ---------- E charts ----------
growth(441, 294, 66, 52, tL, 12, 5, true, true,
    [[eBs, NV], [eBsD, RD], [eBsO, OR, eBsOHi, eBsOLo]], 2);
growth(659, 294, 68, 52, tL, 12, 5, true, true,
    [[eWt, K], [eDelP, MG], [eDelD, RD], [eDelO, OR]], 2);

// ---------- F charts ----------
growth(417, 436, 67, 52, tL, 12, 5, true, true,
    [[fThy, K], [fThy, NV], [fThy, CY], [fThy, PU], [fThy, PK], [fThy, RD]], 2);
growth(501, 436, 66, 52, tL, 12, 5, false, true,
    [[fN64a0, K], [fN64a8, NV], [fN64a16, CY], [fN64a32, PU], [fN64a64, PK], [fN64a128, RD]], 2);
growth(585, 436, 66, 52, tL, 12, 5, false, true,
    [[fN128a0, K], [fN128a8, NV], [fN128a16, CY], [fN128a32, PU], [fN128a64, PK], [fN128a128, RD]], 2);
growth(668, 436, 67, 52, tL, 12, 5, false, true,
    [[fN256a0, K], [fN256a8, NV], [fN256a16, CY], [fN256a32, PU], [fN256a64, PK], [fN256a128, RD]], 2);

// ---------- texts ----------
const OD = 'OD<sub>600</sub>';
put('A', 2, 7, {align: 'left', bold: true, size: 11});
put('B', 340, 6, {align: 'left', bold: true, size: 11});
put('C', 2, 185, {align: 'left', bold: true, size: 11});
put('D', 385, 157, {align: 'left', bold: true, size: 11});
put('E', 385, 277, {align: 'left', bold: true, size: 11});
put('F', 384, 393, {align: 'left', bold: true, size: 11});

// B
put('FC (mutant vs WT)', 368, 68, {rot: -90, size: 13});
const bLeg = ['BceS<sub>V124A</sub>', 'BceR<sub>D55A</sub>', 'BceS<sub>V124A</sub> BceR<sub>D55A</sub>', 'BceS<sub>V124A</sub> &Delta;<i>bceAB</i>'];
const bLegCol = ['#1c1c8a', '#cbcbcb', '#c0241c', '#f58585'];
const bLegY = [32, 58, 79, 99];
bLeg.forEach((s, i) => { sq(672, bLegY[i], bLegCol[i]); put(s, 683, bLegY[i], {align: 'left', size: 13}); });

// C
put('WT', 105, 189);
put('BceS<sub>V124A</sub>', 231, 189);
put(OD, 18, 211, {rot: -90});
put('Time (hours)', 232, 501);
[[nisinDoses, 208, 'Nisin', '(&micro;g/ml)'], [gramDoses, 304, 'Gramicidin', '(ng/ml)'], [colDoses, 400, 'Colistin', '(&micro;g/ml)']]
    .forEach(([doses, y0, name, unit]) => {
        doses.forEach((d, i) => { dot(282, y0 + 16 * i, doseColors[i]); put(d, 289, y0 + 16 * i, {align: 'left'}); });
        put(name, 315, y0, {align: 'left'});
        put(unit, 315, y0 + 13, {align: 'left'});
    });

// D
put('THY', 473, 160);
put('Nisin 16', 555, 160);
put('Colistin 64', 633, 160);
put(OD, 405, 184, {rot: -90});
put('Time (hours)', 624, 258);
const dLeg = ['WT', 'BceS<sub>V124A</sub>', 'BceR<sub>D55A</sub>', 'BceS<sub>V124A</sub> BceR<sub>D55A</sub>', 'BceS<sub>V124A</sub> &Delta;<i>bceAB</i>'];
const dLegCol = [K, NV, GR, RD, PK];
dLeg.forEach((s, i) => { dot(678, 160 + 19.3 * i, dLegCol[i]); put(s, 686, 160 + 19.3 * i, {align: 'left'}); });

// E
put('Nisin 64', 482, 283);
put('Nisin 64', 703, 283);
put(OD, 405, 302, {rot: -90});
put(OD, 623, 302, {rot: -90});
put('Time (hours)', 474, 376);
put('Time (hours)', 693, 376);
const eLeg1 = ['BceS<sub>V124A</sub>', 'BceS<sub>V124A</sub> &Delta;<i>bceD</i>', 'BceS<sub>V124A</sub> &Delta;<i>bceO</i>'];
const eLeg1Col = [NV, RD, OR];
const eLeg1Y = [306, 323, 340];
eLeg1.forEach((s, i) => { dot(517, eLeg1Y[i], eLeg1Col[i]); put(s, 525, eLeg1Y[i], {align: 'left'}); });
const eLeg2 = ['WT', '&Delta;<i>bceP</i>', '&Delta;<i>bceD</i>', '&Delta;<i>bceO</i>'];
const eLeg2Col = [K, MG, RD, OR];
const eLeg2Y = [304, 316, 329, 342];
eLeg2.forEach((s, i) => { dot(749, eLeg2Y[i], eLeg2Col[i]); put(s, 757, eLeg2Y[i], {align: 'left'}); });

// F
put('WT pre-exposed to nisin', 578, 403);
put('THY', 454, 422);
put('Nisin 64', 533, 422);
put('Nisin 128', 615, 422);
put('Nisin 256', 703, 422);
put(OD, 379, 443, {rot: -90});
put('Time (hours)', 701, 517);
put('Adaptation', 767, 403);
put('(&micro;g/ml)', 767, 415);
adaptDoses.forEach((d, i) => { dot(743, 432 + 16 * i, doseColors[i]); put(d, 751, 432 + 16 * i, {align: 'left'}); });
</script>
</body>
</html>
